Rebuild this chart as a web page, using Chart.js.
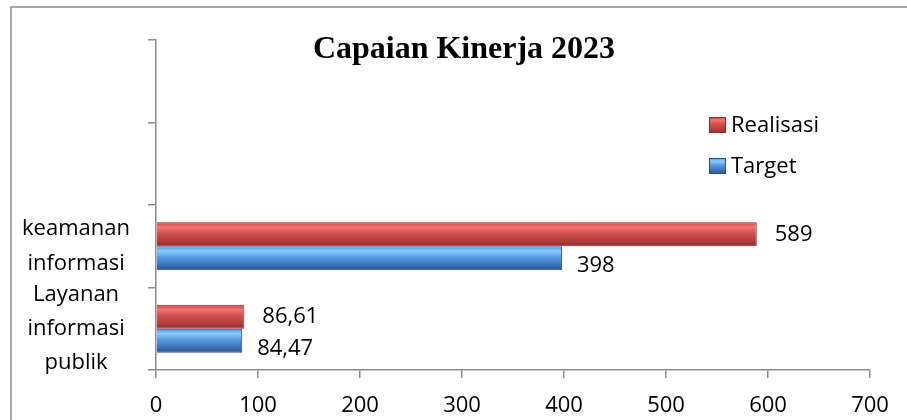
<!DOCTYPE html>
<html>
<head>
<meta charset="utf-8">
<script src="https://cdn.jsdelivr.net/npm/chart.js@4/dist/chart.umd.min.js"></script>
<style>
  body { margin: 0; background: #fff; }
  #wrap { width: 907px; height: 420px; position: relative; }
</style>
</head>
<body>
<div id="wrap"><canvas id="myChart" width="907" height="420"></canvas></div>
<script>
// data
const categories = ['', '', ['keamanan', 'informasi'], ['Layanan', 'informasi', 'publik']];
const realisasi = [null, null, 589, 86.61];
const target = [null, null, 398, 84.47];
const seriesNames = ['Realisasi', 'Target'];
const chartTitle = 'Capaian Kinerja 2023';

const catPct = 0.58;
const font = "'Open Sans', sans-serif";

const redStops = ['#c94442', '#f27572', '#d4504d', '#b03c39', '#8e2c2a'];
const blueStops = ['#4f8fd6', '#8ccbff', '#5a9ae0', '#3a6fb6', '#27508c'];

function makeGrad(ctx, y0, y1, stops) {
    const g = ctx.createLinearGradient(0, y0, 0, y1);
    g.addColorStop(0, stops[0]);
    g.addColorStop(0.2, stops[1]);
    g.addColorStop(0.45, stops[2]);
    g.addColorStop(0.8, stops[3]);
    g.addColorStop(1, stops[4]);
    return g;
}

function barFill(stops, upper) {
    return function(c) {
        const chart = c.chart;
        const y = chart.scales.y;
        if (!y || c.type !== 'data') return stops[2];
        const center = y.getPixelForValue(c.dataIndex);
        const half = (y.height / categories.length) * catPct / 2;
        if (!isFinite(center) || !isFinite(half) || half <= 0) return stops[2];
        const y0 = upper ? center - half : center;
        return makeGrad(chart.ctx, y0, y0 + half, stops);
    };
}

function fmt(v) {
    return String(v).replace('.', ',');
}

// frame, title, legend, value labels
const extras = {
    id: 'extras',
    beforeDraw(chart) {
        const ctx = chart.ctx;
        ctx.save();
        ctx.strokeStyle = '#8a8a8a';
        ctx.lineWidth = 1.5;
        ctx.beginPath();
        ctx.moveTo(11, 420);
        ctx.lineTo(11, 7);
        ctx.lineTo(907, 7);
        ctx.stroke();
        ctx.restore();
    },
    afterDatasetsDraw(chart) {
        const ctx = chart.ctx;
        ctx.save();
        ctx.fillStyle = '#000';
        ctx.font = '22px ' + font;
        ctx.textAlign = 'left';
        ctx.textBaseline = 'middle';
        const nudges = [{dx: 18, dy: 0}, {dx: 15, dy: 8}];
        chart.data.datasets.forEach((ds, di) => {
            const meta = chart.getDatasetMeta(di);
            meta.data.forEach((el, i) => {
                if (ds.data[i] == null) return;
                ctx.fillText(fmt(ds.data[i]), el.x + nudges[di].dx, el.y + nudges[di].dy);
            });
        });

        // title
        ctx.font = "bold 32px 'Liberation Serif', 'Times New Roman', serif";
        ctx.textAlign = 'center';
        ctx.textBaseline = 'alphabetic';
        ctx.fillText(chartTitle, 464, 58);

        // legend
        const items = [{name: seriesNames[0], stops: redStops, y: 117}, {name: seriesNames[1], stops: blueStops, y: 158}];
        items.forEach(it => {
            ctx.fillStyle = makeGrad(ctx, it.y, it.y + 16, it.stops);
            ctx.fillRect(709, it.y, 17, 16);
            ctx.strokeStyle = it.stops[4];
            ctx.lineWidth = 1;
            ctx.strokeRect(709.5, it.y + 0.5, 16, 15);
            ctx.fillStyle = '#000';
            ctx.font = '22px ' + font;
            ctx.textAlign = 'left';
            ctx.fillText(it.name, 731, it.y + 15);
        });
        ctx.restore();
    }
};

const axisGray = '#8c8c8c';

new Chart(document.getElementById('myChart'), {
    type: 'bar',
    data: {
        labels: categories,
        datasets: [{
            label: seriesNames[0],
            data: realisasi,
            backgroundColor: barFill(redStops, true),
            borderColor: '#8e2c2a',
            borderWidth: 1,
            barPercentage: 1,
            categoryPercentage: catPct
        }, {
            label: seriesNames[1],
            data: target,
            backgroundColor: barFill(blueStops, false),
            borderColor: '#27508c',
            borderWidth: 1,
            barPercentage: 1,
            categoryPercentage: catPct
        }]
    },
    options: {
        indexAxis: 'y',
        responsive: false,
        animation: false,
        devicePixelRatio: 1,
        layout: { padding: { left: 0, top: 40, right: 37, bottom: 0 } },
        plugins: {
            legend: { display: false },
            title: { display: false },
            tooltip: { enabled: false }
        },
        scales: {
            x: {
                min: 0,
                max: 700,
                ticks: { stepSize: 100, color: '#000', font: { family: font, size: 22 }, padding: 15 },
                grid: { drawOnChartArea: false, drawTicks: true, tickLength: 8, color: axisGray, lineWidth: 1.5 },
                border: { color: axisGray, width: 1.5 },
                afterFit(scale) { scale.height = 50; }
            },
            y: {
                ticks: { autoSkip: false, color: '#000', font: { family: font, size: 22, lineHeight: 1.55 }, crossAlign: 'center', padding: 18 },
                grid: { offset: true, drawOnChartArea: false, drawTicks: true, tickLength: 8, color: axisGray, lineWidth: 1.5 },
                border: { color: axisGray, width: 1.5 },
                afterFit(scale) {
                    scale.width = 156;
                    scale.paddingTop = 0;
                    scale.paddingBottom = 0;
                }
            }
        }
    },
    plugins: [extras]
});
</script>
</body>
</html>
